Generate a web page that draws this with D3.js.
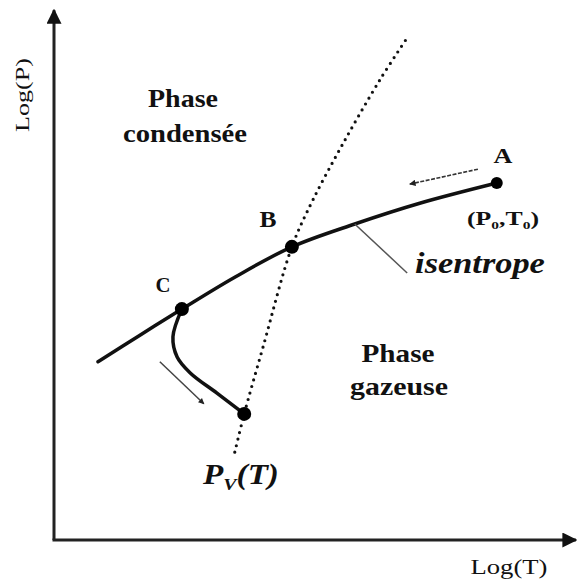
<!DOCTYPE html>
<html>
<head>
<meta charset="utf-8">
<script src="https://cdn.jsdelivr.net/npm/d3@7"></script>
<style>
  body { margin: 0; background: #fff; }
  text { font-family: "Liberation Serif", "DejaVu Serif", serif; fill: #111; }
</style>
</head>
<body>
<svg id="chart" width="581" height="588"></svg>
<script>
// Values in log units
const isentropeT = [0.84, 1.64, 2.44, 3.45, 4.54, 5.74, 6.98, 8.45];
const isentropeP = [3.35, 3.85, 4.34, 4.94, 5.51, 5.94, 6.33, 6.71];

const saturationT = [3.45, 3.63, 3.99, 4.54, 4.94, 5.52, 6.22, 6.74];
const saturationP = [1.65, 2.37, 3.63, 5.51, 6.39, 7.46, 8.65, 9.44];

const branchT = [2.44, 2.27, 2.35, 2.60, 3.11, 3.63];
const branchP = [4.34, 3.82, 3.44, 3.14, 2.76, 2.37];

const pointNames = ['A', 'B', 'C', 'D'];
const pointT = [8.45, 4.54, 2.44, 3.63];
const pointP = [6.71, 5.51, 4.34, 2.37];

const svg = d3.select('#chart');

// Scales
const x = d3.scaleLinear().domain([0, 10]).range([54, 578]);
const y = d3.scaleLinear().domain([0, 10]).range([540, 8]);

const zip = (a, b) => a.map((v, i) => [v, b[i]]);

// Arrow markers
const defs = svg.append('defs');
defs.append('marker')
    .attr('id', 'axisHead')
    .attr('viewBox', '0 0 10 10')
    .attr('refX', 9).attr('refY', 5)
    .attr('markerWidth', 5).attr('markerHeight', 5)
    .attr('markerUnits', 'strokeWidth')
    .attr('orient', 'auto')
    .append('path').attr('d', 'M0,0 L10,5 L0,10 z').attr('fill', '#111');
defs.append('marker')
    .attr('id', 'smallHead')
    .attr('viewBox', '0 0 10 10')
    .attr('refX', 9).attr('refY', 5)
    .attr('markerWidth', 5).attr('markerHeight', 4)
    .attr('markerUnits', 'strokeWidth')
    .attr('orient', 'auto')
    .append('path').attr('d', 'M0,0 L10,5 L0,10 z').attr('fill', '#222');

// Axes
svg.append('line')
    .attr('x1', x(0)).attr('y1', y(0))
    .attr('x2', x(0)).attr('y2', y(9.96))
    .attr('stroke', '#222').attr('stroke-width', 3)
    .attr('marker-end', 'url(#axisHead)');
svg.append('line')
    .attr('x1', x(0) - 1.5).attr('y1', y(0))
    .attr('x2', x(9.96)).attr('y2', y(0))
    .attr('stroke', '#222').attr('stroke-width', 3)
    .attr('marker-end', 'url(#axisHead)');

const line = d3.line().x(d => x(d[0])).y(d => y(d[1])).curve(d3.curveCatmullRom);

// Saturation curve (dotted)
svg.append('path')
    .attr('d', line(zip(saturationT, saturationP)))
    .attr('fill', 'none')
    .attr('stroke', '#111')
    .attr('stroke-width', 3.2)
    .attr('stroke-linecap', 'round')
    .attr('stroke-dasharray', '0 6.8');

// Isentrope
svg.append('path')
    .attr('d', line(zip(isentropeT, isentropeP)))
    .attr('fill', 'none')
    .attr('stroke', '#111')
    .attr('stroke-width', 3.5)
    .attr('stroke-linecap', 'round');

// Branch from C
svg.append('path')
    .attr('d', line(zip(branchT, branchP)))
    .attr('fill', 'none')
    .attr('stroke', '#111')
    .attr('stroke-width', 3.5)
    .attr('stroke-linecap', 'round');

// Points
svg.selectAll('circle.pt')
    .data(zip(pointT, pointP))
    .join('circle')
    .attr('class', 'pt')
    .attr('cx', d => x(d[0]))
    .attr('cy', d => y(d[1]))
    .attr('r', (d, i) => i === 0 ? 6 : 7)
    .attr('fill', '#000');

// Direction arrows
svg.append('line')
    .attr('x1', x(8.09)).attr('y1', y(6.97))
    .attr('x2', x(6.79)).attr('y2', y(6.69))
    .attr('stroke', '#333').attr('stroke-width', 1.6)
    .attr('stroke-dasharray', '4 1.5')
    .attr('marker-end', 'url(#smallHead)');
svg.append('line')
    .attr('x1', x(2.02)).attr('y1', y(3.35))
    .attr('x2', x(2.86)).attr('y2', y(2.56))
    .attr('stroke', '#444').attr('stroke-width', 1.5)
    .attr('marker-end', 'url(#smallHead)');

// Leader line for isentrope label
svg.append('line')
    .attr('x1', x(5.74)).attr('y1', y(5.94))
    .attr('x2', x(6.74)).attr('y2', y(5.02))
    .attr('stroke', '#555').attr('stroke-width', 1.5);

// Labels: the figure's lettering is a bit wider than the font, so stretch to width
const fitWidth = (t, cx, width) => {
    const w = t.node().getBBox().width;
    const sx = width / w;
    t.attr('transform', `translate(${cx},0) scale(${sx},1) translate(${-cx},0)`);
    return t;
};

const label = (cx, by, str, size, width, opts = {}) => {
    const t = svg.append('text')
        .attr('x', cx).attr('y', by)
        .attr('text-anchor', 'middle')
        .attr('font-size', size)
        .attr('font-weight', opts.weight || 'bold')
        .attr('font-style', opts.style || 'normal');
    if (opts.parts) {
        opts.parts.forEach(p => {
            const s = t.append('tspan').text(p.text);
            if (p.sub) s.attr('font-size', size * 0.6).attr('dy', size * 0.22);
            if (p.up) s.attr('dy', -size * 0.22);
        });
    } else {
        t.text(str);
    }
    return fitWidth(t, cx, width);
};

label(183, 107, 'Phase', 26, 70);
label(185, 142, 'condensée', 26, 124);
label(398, 362, 'Phase', 26, 73);
label(399, 395, 'gazeuse', 26, 98);

label(503, 163, 'A', 22, 19);
label(268, 227, 'B', 23, 17);
label(163, 292, 'C', 22, 15);

label(503, 225, null, 19, 72, {
    parts: [
        { text: '(P' }, { text: '0', sub: true }, { text: ',T', up: true },
        { text: '0', sub: true }, { text: ')', up: true }
    ]
});

label(480, 273, 'isentrope', 29, 130, { style: 'italic' });

label(241, 484, null, 29, 77, {
    style: 'italic',
    parts: [{ text: 'P' }, { text: 'V', sub: true }, { text: '(T)', up: true }]
});

// Axis titles
const yTitle = svg.append('text')
    .attr('transform', `translate(29,95) rotate(-90)`)
    .attr('text-anchor', 'middle')
    .attr('font-size', 18)
    .text('Log(P)');
const yw = yTitle.node().getBBox().width;
yTitle.attr('transform', `translate(29,95) rotate(-90) scale(${74 / yw},1)`);

label(509, 574, 'Log(T)', 20, 77, { weight: 'normal' });
</script>
</body>
</html>
